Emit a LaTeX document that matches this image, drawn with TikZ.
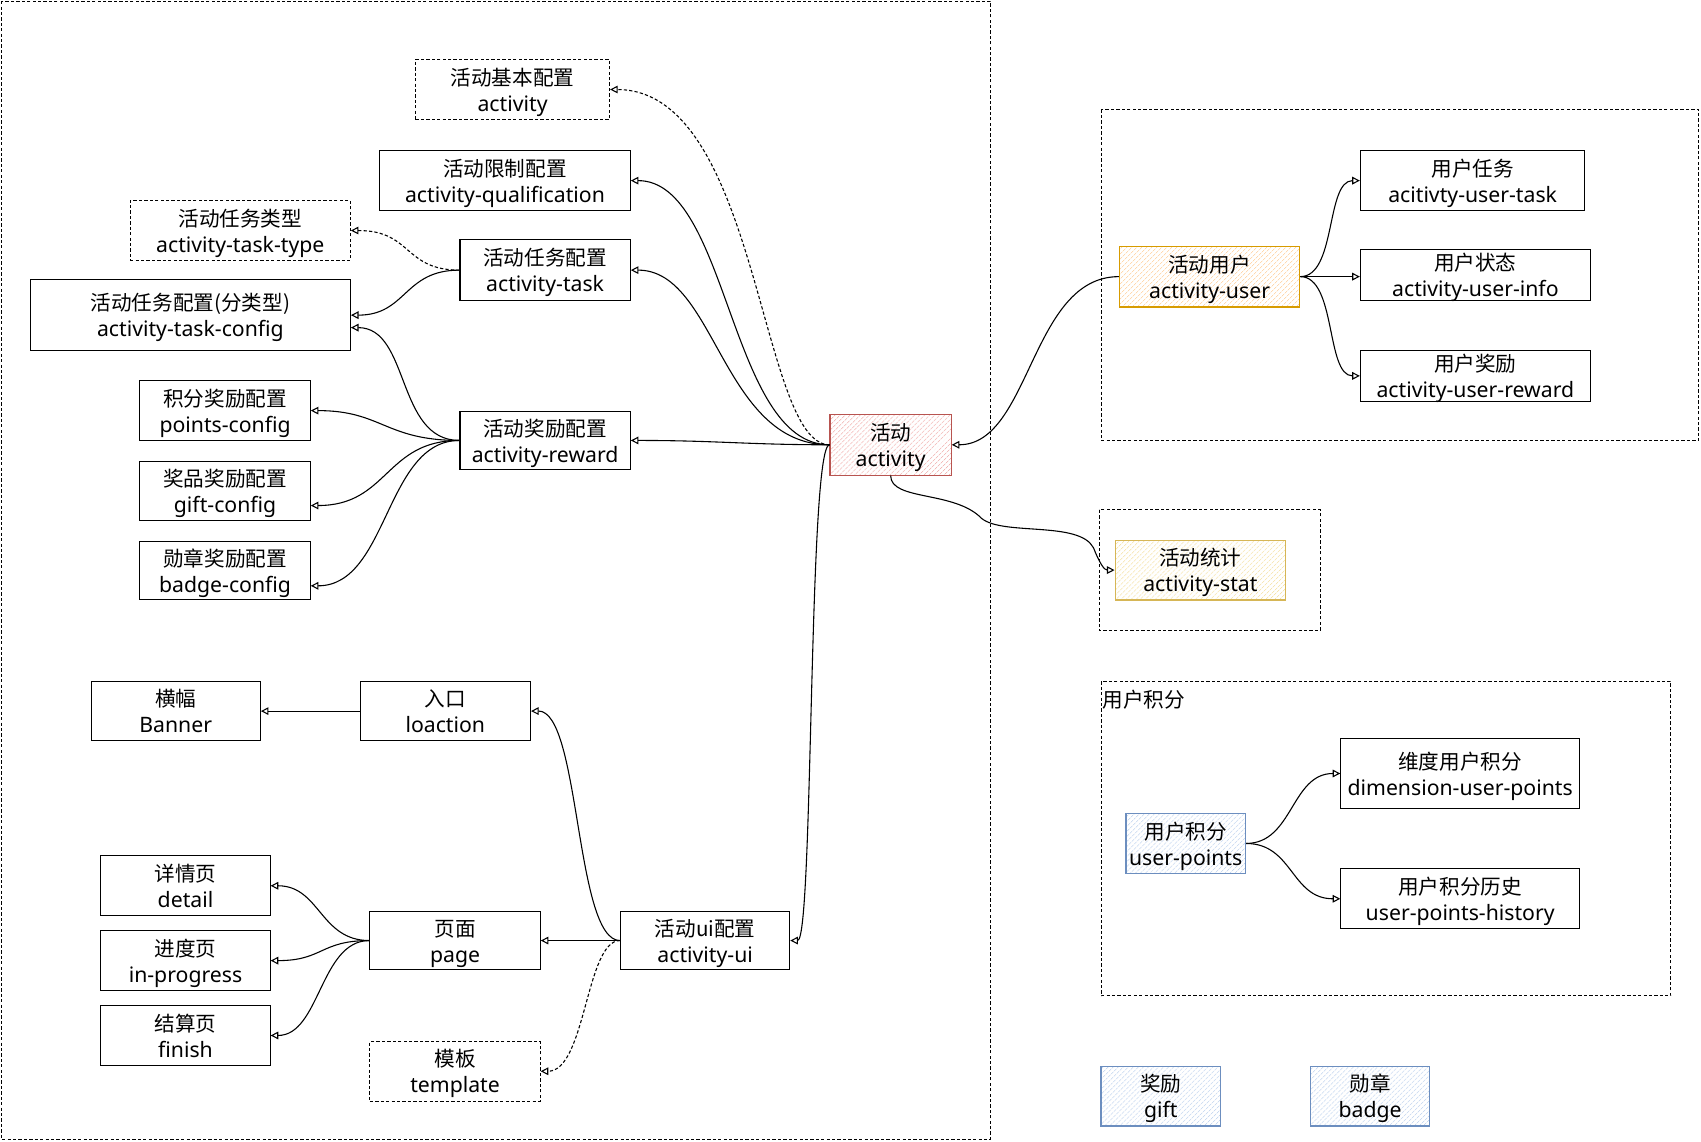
\documentclass[tikz,border=0pt]{standalone}
\usepackage{fontspec}
\setmainfont[Scale=1.03]{Noto Sans}
\newfontfamily\cjk{Noto Sans CJK SC}
\usetikzlibrary{arrows.meta,patterns.meta}

\definecolor{redline}{HTML}{B85450}
\definecolor{redhatch}{HTML}{F2B3B1}
\definecolor{orangeline}{HTML}{D79B00}
\definecolor{orangehatch}{HTML}{FFD8AE}
\definecolor{yellowline}{HTML}{D6B656}
\definecolor{yellowhatch}{HTML}{F6E3A8}
\definecolor{blueline}{HTML}{6C8EBF}
\definecolor{bluehatch}{HTML}{C3D6F0}

\tikzset{
  tbl/.style={draw=black, line width=1pt, fill=white, align=center, inner sep=0pt,
    text height=43.5pt, text depth=3.5pt, font=\fontsize{19}{24}\selectfont},
  dbox/.style={tbl, dash pattern=on 3pt off 2pt, line width=0.8pt},
  hatch/.style 2 args={tbl, draw=#1, line width=1.2pt, preaction={fill=white},
    pattern={Lines[angle=45,distance=4pt,line width=0.7pt]}, pattern color=#2},
  frame/.style={draw=black, line width=0.8pt, dash pattern=on 3pt off 2pt},
  link/.style={line width=1pt, -{Triangle[open,length=7pt,width=7pt]}},
  dlink/.style={link, dash pattern=on 3pt off 2pt},
}

\begin{document}
\begin{tikzpicture}[x=1pt,y=-1pt]
\useasboundingbox (0,0) rectangle (1568,1052);

% group frames
\draw[frame] (1,1) rectangle (913,1050);
\draw[frame] (1015,101) rectangle (1566,406);
\draw[frame] (1013,470) rectangle (1217,581);
\draw[frame] (1015,628) rectangle (1540,918);
\node[anchor=west, inner sep=0pt, font=\fontsize{19}{24}\selectfont\cjk] (ptslabel) at (1016,645) {用户积分};

% activity configuration
\node[dbox, minimum width=179pt, minimum height=55pt] (basic) at (472.5,82.5) {{\cjk 活动基本配置}\\activity};
\node[tbl, minimum width=231pt, minimum height=55pt] (qual) at (465.5,166.5) {{\cjk 活动限制配置}\\activity-qualification};
\node[dbox, minimum width=203pt, minimum height=55pt] (tasktype) at (221.5,212.5) {{\cjk 活动任务类型}\\activity-task-type};
\node[tbl, minimum width=157pt, minimum height=56pt] (task) at (502.5,249) {{\cjk 活动任务配置}\\activity-task};
\node[tbl, minimum width=295pt, minimum height=65pt] (taskcfg) at (175.5,290.5) {{\cjk 活动任务配置(分类型)}\\activity-task-config};
\node[tbl, minimum width=157pt, minimum height=55pt] (points) at (207.5,378.5) {{\cjk 积分奖励配置}\\points-config};
\node[tbl, minimum width=157pt, minimum height=55pt] (giftcfg) at (207.5,452.5) {{\cjk 奖品奖励配置}\\gift-config};
\node[tbl, minimum width=157pt, minimum height=54pt] (badgecfg) at (207.5,526) {{\cjk 勋章奖励配置}\\badge-config};
\node[tbl, minimum width=157pt, minimum height=54pt] (reward) at (502.5,406) {{\cjk 活动奖励配置}\\activity-reward};

% ui configuration
\node[tbl, minimum width=156pt, minimum height=55pt] (banner) at (162,655.5) {{\cjk 横幅}\\Banner};
\node[tbl, minimum width=157pt, minimum height=55pt] (loc) at (410.5,655.5) {{\cjk 入口}\\loaction};
\node[tbl, minimum width=156pt, minimum height=55pt] (detail) at (171,816.5) {{\cjk 详情页}\\detail};
\node[tbl, minimum width=156pt, minimum height=55pt] (inprog) at (171,885.5) {{\cjk 进度页}\\in-progress};
\node[tbl, minimum width=156pt, minimum height=55pt] (finish) at (171,954.5) {{\cjk 结算页}\\finish};
\node[tbl, minimum width=157pt, minimum height=54pt] (page) at (419.5,867) {{\cjk 页面}\\page};
\node[tbl, minimum width=156pt, minimum height=54pt] (ui) at (650,867) {{\cjk 活动ui配置}\\activity-ui};
\node[dbox, minimum width=157pt, minimum height=55pt] (tmpl) at (419.5,987.5) {{\cjk 模板}\\template};

% core and user side
\node[hatch={redline}{redhatch}, minimum width=112pt, minimum height=56pt] (act) at (821,410) {{\cjk 活动}\\activity};
\node[hatch={orangeline}{orangehatch}, minimum width=166pt, minimum height=56pt] (au) at (1115,255) {{\cjk 活动用户}\\activity-user};
\node[tbl, minimum width=207pt, minimum height=55pt] (utask) at (1357.5,166.5) {{\cjk 用户任务}\\acitivty-user-task};
\node[tbl, minimum width=212pt, minimum height=47pt] (uinfo) at (1360,253.5) {{\cjk 用户状态}\\activity-user-info};
\node[tbl, minimum width=212pt, minimum height=47pt] (ureward) at (1360,346.5) {{\cjk 用户奖励}\\activity-user-reward};
\node[hatch={yellowline}{yellowhatch}, minimum width=157pt, minimum height=55pt] (stat) at (1106.5,525.5) {{\cjk 活动统计}\\activity-stat};

% points
\node[hatch={blueline}{bluehatch}, minimum width=110pt, minimum height=55pt] (upts) at (1093,777.5) {{\cjk 用户积分}\\user-points};
\node[tbl, minimum width=220pt, minimum height=64pt] (dim) at (1346,713) {{\cjk 维度用户积分}\\dimension-user-points};
\node[tbl, minimum width=220pt, minimum height=55pt] (hist) at (1346,828.5) {{\cjk 用户积分历史}\\user-points-history};
\node[hatch={blueline}{bluehatch}, minimum width=110pt, minimum height=55pt] (gift) at (1070,1010.5) {{\cjk 奖励}\\gift};
\node[hatch={blueline}{bluehatch}, minimum width=110pt, minimum height=55pt] (badge) at (1263,1010.5) {{\cjk 勋章}\\badge};

% connectors from the activity
\draw[dlink] (act.west) .. controls (700,410) and (700,83) .. (basic.east);
\draw[link] (act.west) .. controls (672,410) and (672,166.5) .. (qual.east);
\draw[link] (act.west) .. controls (665,410) and (660,249) .. (task.east);
\draw[link] (act.west) .. controls (690,410) and (660,406) .. (reward.east);
\draw[link] (act.west) .. controls (745,410) and (750,867) .. (ui.east);
\draw[link] (au.west) .. controls (950,255) and (950,410) .. (act.east);
\draw[link] (act.south) .. controls (821,462) and (880,452) .. (905,478)
  .. controls (925,494) and (995,480) .. (1008,505)
  .. controls (1014,520) and (1018,525.5) .. (stat.west);

% activity-user children
\draw[link] (au.east) .. controls (1232,255) and (1222,166.5) .. (utask.west);
\draw[link] (au.east) -- (uinfo.west |- au.east);
\draw[link] (au.east) .. controls (1232,255) and (1222,346.5) .. (ureward.west);

% task and reward children
\draw[dlink] (task.west) .. controls (372,249) and (380,212.5) .. (tasktype.east);
\draw[link] (task.west) .. controls (372,249) and (375,290.5) .. (taskcfg.east);
\draw[link] (reward.west) .. controls (365,406) and (378,302) .. ([yshift=-11.5pt]taskcfg.east);
\draw[link] (reward.west) .. controls (355,406) and (352,378.5) .. (points.east);
\draw[link] (reward.west) .. controls (355,406) and (358,466) .. ([yshift=-13.5pt]giftcfg.east);
\draw[link] (reward.west) .. controls (355,406) and (358,540) .. ([yshift=-14pt]badgecfg.east);

% ui children
\draw[link] (ui.west) .. controls (530,867) and (535,655) .. (loc.east);
\draw[link] (ui.west) -- (page.east);
\draw[dlink] (ui.west) .. controls (540,867) and (540,987.5) .. (tmpl.east);
\draw[link] (loc.west) -- (banner.east);
\draw[link] (page.west) .. controls (295,867) and (295,816.5) .. (detail.east);
\draw[link] (page.west) .. controls (295,867) and (298,885.5) .. (inprog.east);
\draw[link] (page.west) .. controls (295,867) and (295,954.5) .. (finish.east);

% points children
\draw[link] (upts.east) .. controls (1192,777.5) and (1190,713) .. (dim.west);
\draw[link] (upts.east) .. controls (1192,777.5) and (1190,828.5) .. (hist.west);
\end{tikzpicture}
\end{document}
